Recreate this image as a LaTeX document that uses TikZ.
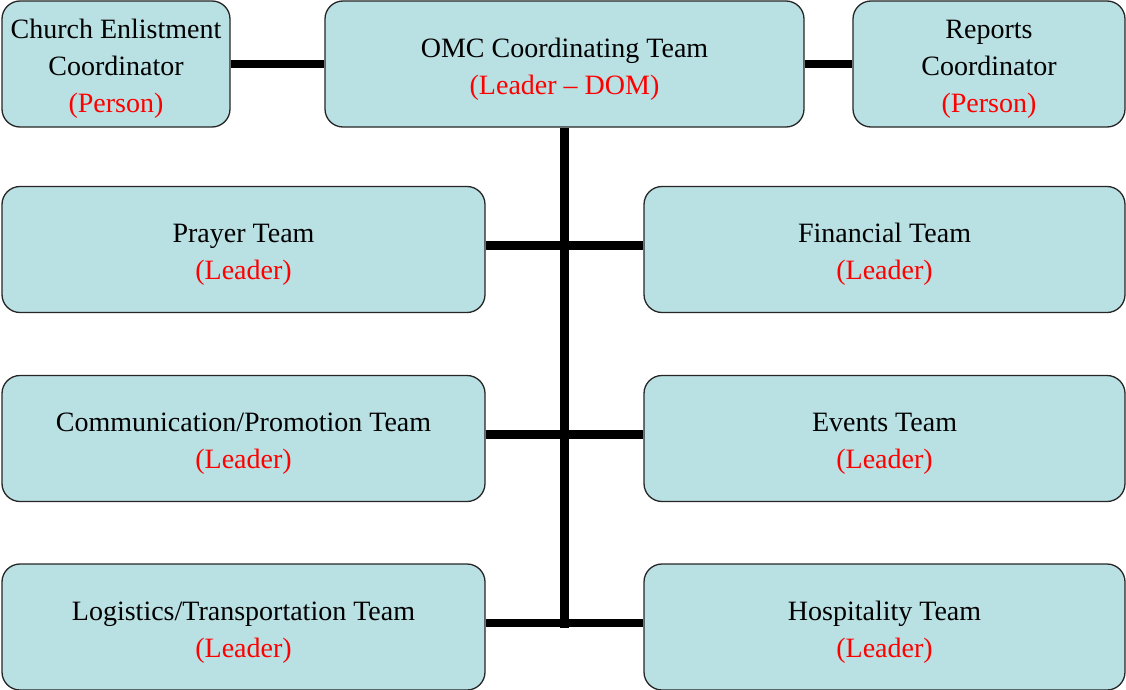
\documentclass[tikz,border=0pt]{standalone}
\usepackage{fontspec}
\setmainfont{Liberation Serif}
% a tall strut on the first line sets the text block a little lower in its box
\newcommand\firstline{\rule{0pt}{29pt}}
\begin{document}
\begin{tikzpicture}[x=1pt,y=-1pt,
  box/.style={draw=black!85, line width=1.3pt, fill=boxfill, rounded corners=18pt,
    align=center, inner sep=0pt, minimum height=126pt,
    font=\fontsize{28}{37}\selectfont},
  link/.style={line width=8.5pt, draw=black}]
\definecolor{boxfill}{RGB}{185,224,227}
\useasboundingbox (0,0) rectangle (1126,690);
\clip (0,0) rectangle (1126,690);

% top row
\node[box, minimum width=228pt] (church) at (116,64)
  {\firstline Church Enlistment\\Coordinator\\\textcolor{red}{(Person)}};
\node[box, minimum width=479pt] (omc) at (564.5,64)
  {\firstline OMC Coordinating Team\\\textcolor{red}{(Leader -- DOM)}};
\node[box, minimum width=272pt] (reports) at (989,64)
  {\firstline Reports\\Coordinator\\\textcolor{red}{(Person)}};

% team rows
\node[box, minimum width=483pt] (prayer) at (243.5,249.5)
  {\firstline Prayer Team\\\textcolor{red}{(Leader)}};
\node[box, minimum width=481pt] (financial) at (884.5,249.5)
  {\firstline Financial Team\\\textcolor{red}{(Leader)}};
\node[box, minimum width=483pt] (comm) at (243.5,438.5)
  {\firstline Communication/Promotion Team\\\textcolor{red}{(Leader)}};
\node[box, minimum width=481pt] (events) at (884.5,438.5)
  {\firstline Events Team\\\textcolor{red}{(Leader)}};
\node[box, minimum width=483pt] (logistics) at (243.5,627)
  {\firstline Logistics/Transportation Team\\\textcolor{red}{(Leader)}};
\node[box, minimum width=481pt] (hospitality) at (884.5,627)
  {\firstline Hospitality Team\\\textcolor{red}{(Leader)}};

% connectors
\coordinate (vbot) at (564.5,627.5);
\draw[link] (church.east) -- (omc.west);
\draw[link] (omc.east) -- (reports.west);
\draw[link] (omc.south) -- (vbot);
\draw[link] ([yshift=4pt]prayer.east) -- ([yshift=4pt]financial.west);
\draw[link] ([yshift=4pt]comm.east) -- ([yshift=4pt]events.west);
\draw[link] ([yshift=4pt]logistics.east) -- ([yshift=4pt]hospitality.west);
\end{tikzpicture}
\end{document}
